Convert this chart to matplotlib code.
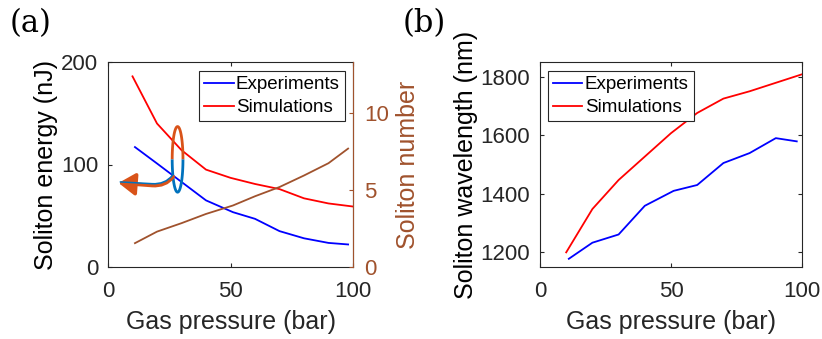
import numpy as np
import matplotlib
matplotlib.use("Agg")
import matplotlib.pyplot as plt
from matplotlib.path import Path
from matplotlib.patches import FancyArrowPatch

# ---------------- data ----------------
p_exp = [11, 20, 30, 40, 51, 60, 70, 80, 90, 98]
p_sim = [10, 20, 30, 40, 50, 60, 70, 80, 90, 100]

energy_exp = [117, 101, 83, 65, 53.5, 47, 35, 28, 23.5, 22]
energy_sim = [186, 140, 114, 95, 87, 81, 76, 67, 62, 59]
soliton_number = [1.55, 2.3, 2.85, 3.45, 4.0, 4.6, 5.2, 5.95, 6.75, 7.7]

wl_exp = [1178, 1233, 1261, 1359, 1410, 1430, 1505, 1539, 1590, 1579]
wl_sim = [1200, 1348, 1447, 1527, 1607, 1676, 1725, 1750, 1779, 1808]

series_labels = ["Experiments", "Simulations"]
xlabel = "Gas pressure (bar)"
ylabel_a = "Soliton energy (nJ)"
ylabel_a2 = "Soliton number"
ylabel_b = "Soliton wavelength (nm)"

# ---------------- style ----------------
plt.rcParams['font.family'] = ['Liberation Sans', 'DejaVu Sans']
DARK = '#262626'
BROWN = '#A0522D'
MBLUE = '#0072BD'
MORANGE = '#D95319'
TICK_FS = 16
LAB_FS = 18
LEG_FS = 13.5

fig = plt.figure(figsize=(8.22, 3.39), dpi=100)

def style_axes(ax):
    for s in ax.spines.values():
        s.set_color(DARK)
        s.set_linewidth(0.8)
    ax.tick_params(direction='in', length=3, width=0.8, colors=DARK,
                   labelsize=TICK_FS, pad=7)
    ax.tick_params(axis='x', pad=10)

def style_legend(leg):
    leg.get_frame().set_edgecolor(DARK)
    leg.get_frame().set_linewidth(0.8)
    for txt in leg.get_texts():
        txt.set_color('black')

LEG_KW = dict(borderaxespad=0, fontsize=LEG_FS, frameon=True, fancybox=False,
              handlelength=1.55, handletextpad=0.12, labelspacing=0.3,
              borderpad=0.28, framealpha=1)

# ---------------- panel (a) ----------------
axa = fig.add_axes([108/822, 1-267/339, 245/822, 205/339])
style_axes(axa)
axa.plot(p_exp, energy_exp, color='#0000FF', lw=1.3, label=series_labels[0])
axa.plot(p_sim, energy_sim, color='#FF0000', lw=1.3, label=series_labels[1])
axa.set_xlim(0, 100)
axa.set_ylim(0, 200)
axa.set_xticks([0, 50, 100])
axa.set_yticks([0, 100, 200])
axa.tick_params(top=True, right=False)
axa.set_xlabel(xlabel, fontsize=LAB_FS, color=DARK, labelpad=6)
axa.set_ylabel(ylabel_a, fontsize=LAB_FS, color='black', labelpad=2)

# ellipse annotation (top half orange, bottom half blue)
t = np.linspace(0, np.pi, 100)
cx, cy, rx, ry = 28.4, 105, 2.2, 32
axa.plot(cx + rx*np.cos(t), cy + ry*np.sin(t), color=MORANGE, lw=2.0, solid_capstyle='butt')
axa.plot(cx + rx*np.cos(t), cy - ry*np.sin(t), color=MBLUE, lw=2.0, solid_capstyle='butt')

# curved arrow pointing left
verts = [(26.6, 88), (23.5, 78.5), (18, 79.5), (4.3, 82)]
codes = [Path.MOVETO, Path.CURVE3, Path.CURVE3, Path.LINETO]
arr = FancyArrowPatch(path=Path(verts, codes), arrowstyle='-|>,head_length=6,head_width=4',
                      color=MORANGE, lw=2.6, mutation_scale=1.7, zorder=5)
axa.add_patch(arr)
verts2 = [(26.3, 89.5), (23.3, 80.5), (18, 81.3), (5.0, 83)]
axa.add_patch(FancyArrowPatch(path=Path(verts2, codes), arrowstyle='-', color=MBLUE,
                              lw=1.1, zorder=6))

leg = axa.legend(loc='upper right', bbox_to_anchor=(0.967, 0.956), **LEG_KW)
style_legend(leg)

axa2 = axa.twinx()
axa2.set_position(axa.get_position())
axa2.plot(p_exp, soliton_number, color=BROWN, lw=1.3)
axa2.set_ylim(0, 13.33)
axa2.set_yticks([0, 5, 10])
for s in axa2.spines.values():
    s.set_visible(False)
axa2.spines['right'].set_visible(True)
axa2.spines['right'].set_color(BROWN)
axa2.spines['right'].set_linewidth(0.8)
axa2.tick_params(axis='y', direction='in', length=3, width=0.8, colors=BROWN,
                 labelsize=TICK_FS, pad=8)
axa2.set_ylabel(ylabel_a2, fontsize=LAB_FS, color=BROWN, labelpad=5)

# ---------------- panel (b) ----------------
axb = fig.add_axes([540/822, 1-267/339, 262/822, 205/339])
style_axes(axb)
axb.plot(p_exp, wl_exp, color='#0000FF', lw=1.3, label=series_labels[0])
axb.plot(p_sim, wl_sim, color='#FF0000', lw=1.3, label=series_labels[1])
axb.set_xlim(0, 100)
axb.set_ylim(1150, 1850)
axb.set_xticks([0, 50, 100])
axb.set_yticks([1200, 1400, 1600, 1800])
axb.tick_params(top=True, right=True)
axb.set_xlabel(xlabel, fontsize=LAB_FS, color=DARK, labelpad=6)
axb.set_ylabel(ylabel_b, fontsize=LAB_FS, color='black', labelpad=2)
legb = axb.legend(loc='upper left', bbox_to_anchor=(0.031, 0.956), **LEG_KW)
style_legend(legb)

# panel labels
fig.text(10/822, 1-8/339, "(a)", family='DejaVu Serif', fontsize=22, va='top', ha='left')
fig.text(403/822, 1-8/339, "(b)", family='DejaVu Serif', fontsize=22, va='top', ha='left')

fig.savefig("out.png", dpi=100)
